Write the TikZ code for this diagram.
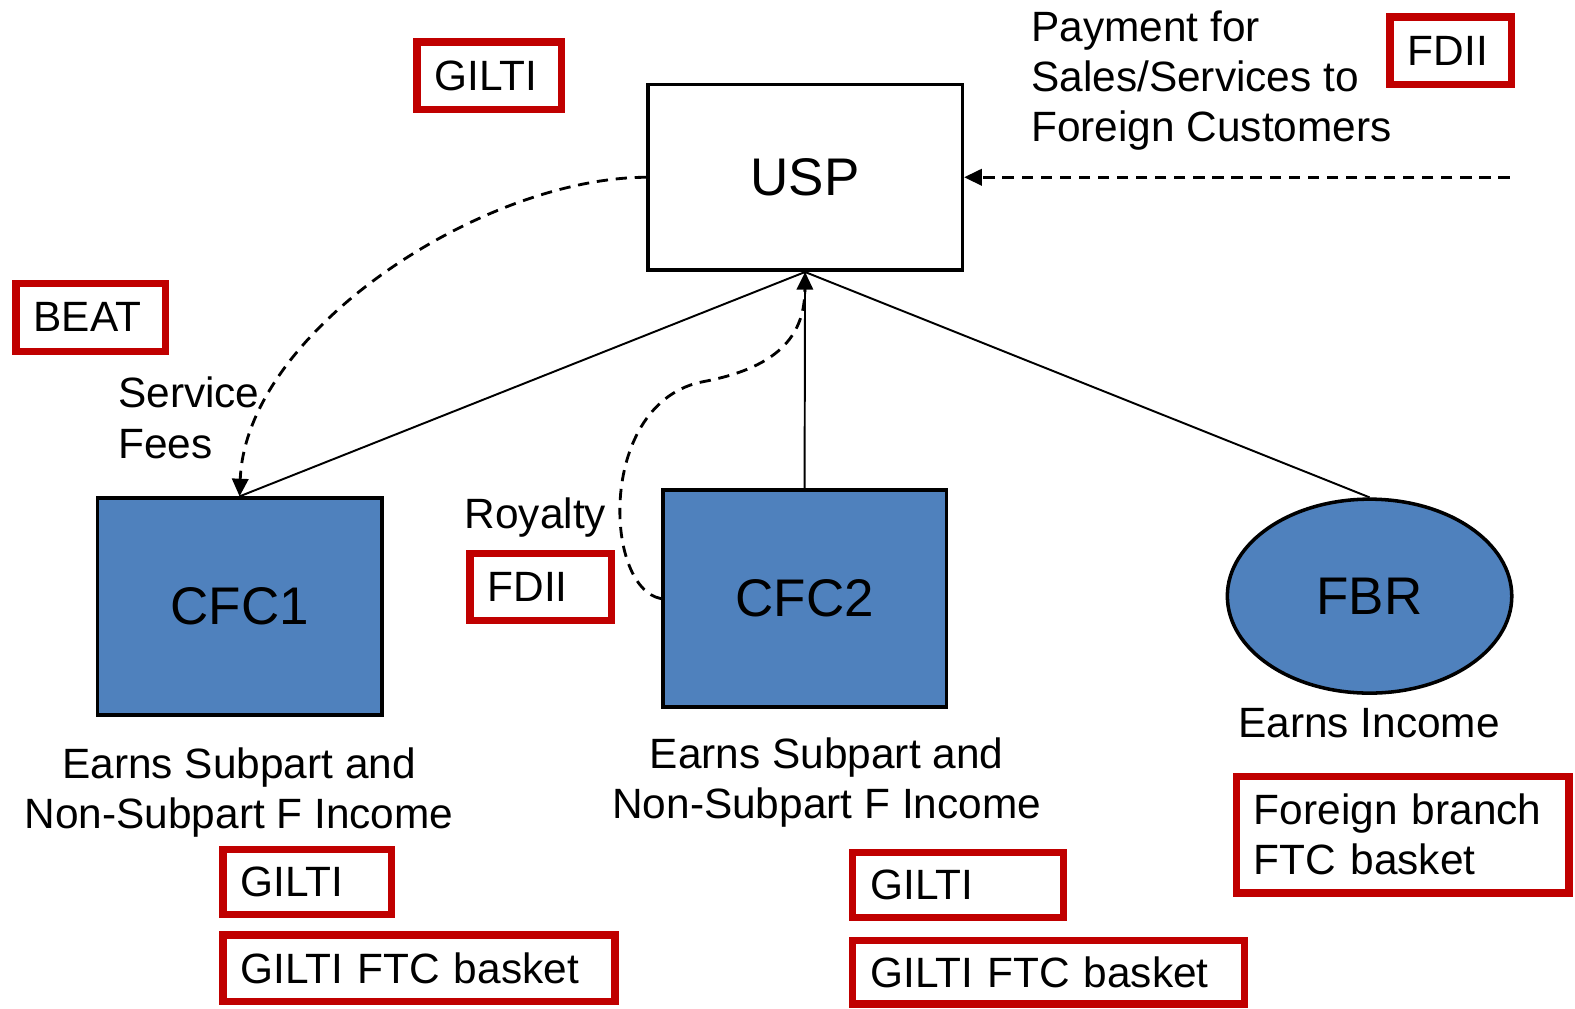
\documentclass[tikz,border=0pt]{standalone}
\usepackage{fontspec}
\setmainfont{Liberation Sans}
\usetikzlibrary{arrows.meta,shapes.geometric}
\definecolor{boxred}{HTML}{C00000}
\definecolor{cfcblue}{HTML}{4F81BD}
\newcommand{\bodyfont}{\fontsize{12pt}{14.2pt}\selectfont}
\newcommand{\bigfont}{\fontsize{15pt}{18pt}\selectfont}
\begin{document}
\begin{tikzpicture}[x=0.01cm,y=-0.01cm,
  redbox/.style={draw=boxred, line width=2.1pt, inner xsep=0.175cm, inner ysep=0pt, align=left, font=\bodyfont},
  entity/.style={draw=black, line width=1pt, inner sep=0pt, font=\bigfont},
  lbl/.style={inner sep=0pt, font=\bodyfont},
  link/.style={line width=0.55pt},
  flow/.style={line width=0.8pt, dash pattern=on 3.2pt off 2.2pt, -{Triangle[length=5pt,width=4.6pt]}},
]
\useasboundingbox (0,0) rectangle (1568,1004);

% entities
\node[entity, minimum width=3.13cm, minimum height=1.85cm] (usp) at (801.5,176.5) {USP};
\node[entity, fill=cfcblue, minimum width=2.83cm, minimum height=2.16cm] (cfc1) at (238.5,604) {CFC1};
\node[entity, fill=cfcblue, minimum width=2.82cm, minimum height=2.16cm] (cfc2) at (801,596) {CFC2};
\node[entity, ellipse, fill=cfcblue, minimum width=2.83cm, minimum height=1.93cm] (fbr) at (1363.5,593.5) {FBR};

% red boxes
\node[redbox, text width=1.09cm, minimum height=0.67cm] (giltitop) at (487,75.5) {GILTI};
\node[redbox, text width=0.86cm, minimum height=0.67cm] (fdiitop) at (1444.5,50.5) {FDII};
\node[redbox, text width=1.14cm, minimum height=0.68cm] (beat) at (90.5,316) {BEAT};
\node[redbox, text width=1.06cm, minimum height=0.67cm] (fdiimid) at (538.5,584.5) {FDII};
\node[redbox, text width=2.96cm, minimum height=1.16cm] (fbbox) at (1396.5,831) {Foreign branch\\FTC basket};
\node[redbox, text width=1.33cm, minimum height=0.65cm] (gilti1) at (306,878) {GILTI};
\node[redbox, text width=3.55cm, minimum height=0.66cm] (ftc1) at (417,964) {GILTI FTC basket};
\node[redbox, text width=1.75cm, minimum height=0.65cm] (gilti2) at (954,881) {GILTI};
\node[redbox, text width=3.55cm, minimum height=0.63cm] (ftc2) at (1044,968) {GILTI FTC basket};

% labels
\node[lbl, anchor=west, align=left] (pay) at (1026,80) {Payment for\\Sales/Services to\\Foreign Customers};
\node[lbl, anchor=west, align=left] (svc) at (117,416) {Service\\Fees};
\node[lbl, anchor=west] (roy) at (462,515) {Royalty};
\node[lbl, align=center] (earn1) at (238,789) {Earns Subpart and\\Non-Subpart F Income};
\node[lbl, align=center] (earn2) at (823,779) {Earns Subpart and\\Non-Subpart F Income};
\node[lbl] (earnfbr) at (1363,720) {Earns Income};

% connectors
\draw[link] (usp.south) -- (cfc1.north);
\draw[link] (usp.south) -- (cfc2.north);
\draw[link] (usp.south) -- (fbr.north);
\coordinate (src) at (1503,176.5);
\draw[flow] (src) -- (usp.east);
\draw[flow] (usp.west) .. controls (480,177) and (245,330) .. (cfc1.north);
\draw[flow] (cfc2.west) .. controls (600,585) and (595,400) .. (700,380) .. controls (780,365) and (801,330) .. (usp.south);
\end{tikzpicture}
\end{document}
